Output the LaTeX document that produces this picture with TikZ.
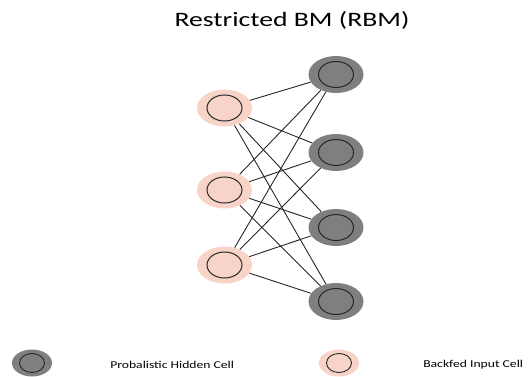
\documentclass[tikz,border=0pt]{standalone}
\usepackage{fontspec}
\setmainfont{Carlito}
\usetikzlibrary{shapes.geometric}
\definecolor{pinkcell}{HTML}{F8D4C8}
\definecolor{graycell}{HTML}{7F7F7F}
\tikzset{
  cell/.style={ellipse, minimum width=55pt, minimum height=37pt, inner sep=0pt},
  inputcell/.style={cell, fill=pinkcell},
  hiddencell/.style={cell, fill=graycell},
  core/.style={ellipse, draw=black!85, line width=1pt, minimum width=35pt, minimum height=26pt, inner sep=0pt},
  smallcell/.style={ellipse, minimum width=40pt, minimum height=27pt, inner sep=0pt},
  smallcore/.style={ellipse, draw=black!85, line width=0.9pt, minimum width=25pt, minimum height=19pt, inner sep=0pt},
  link/.style={draw=black!85, line width=0.9pt},
  legendtext/.style={anchor=west, font=\fontsize{10.5}{12}\selectfont, inner sep=0pt, xscale=1.3}
}
\begin{document}
\begin{tikzpicture}[x=1pt, y=-1pt]
\useasboundingbox (0,0) rectangle (530,377);
% title
\node[xscale=1.35] (title) at (292,20) {\fontsize{20.5}{24}\selectfont Restricted BM (RBM)};
% input layer
\foreach \i/\y in {1/108, 2/190, 3/265} {
  \node[inputcell] (in\i) at (224.5,\y) {};
  \node[core] at (in\i) {};
}
% hidden layer
\foreach \j/\y in {1/74.5, 2/152.5, 3/227.5, 4/301.5} {
  \node[hiddencell] (hid\j) at (336,\y) {};
  \node[core, fill=graycell] at (hid\j) {};
}
% full bipartite connections
\foreach \i in {1,2,3} {
  \foreach \j in {1,2,3,4} {
    \draw[link] (in\i) -- (hid\j);
  }
}
% legend
\node[smallcell, fill=graycell] (lh) at (32,363) {};
\node[smallcore, fill=graycell] at (lh) {};
\node[legendtext] (lhtext) at (110,364.5) {Probalistic Hidden Cell};
\node[smallcell, fill=pinkcell] (li) at (339,363) {};
\node[smallcore] at (li) {};
\node[legendtext] (litext) at (423,364.5) {Backfed Input Cell};
\end{tikzpicture}
\end{document}
